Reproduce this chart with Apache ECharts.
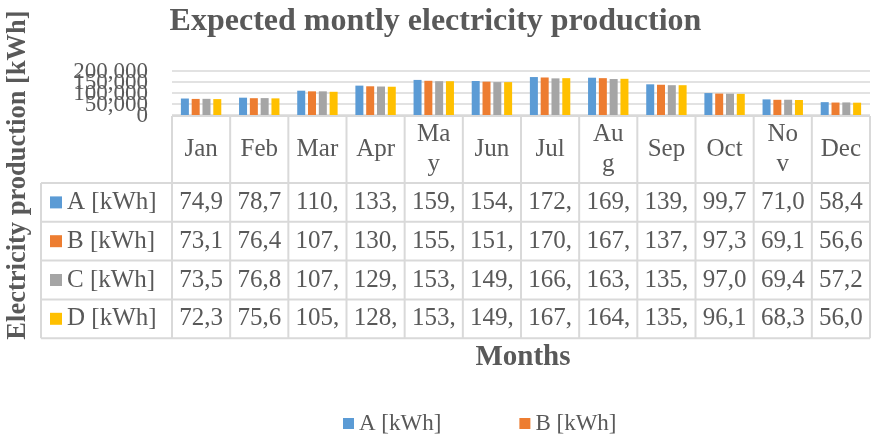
<!DOCTYPE html>
<html>
<head>
<meta charset="utf-8">
<script src="https://cdn.jsdelivr.net/npm/echarts@6/dist/echarts.min.js"></script>
<style>html,body{margin:0;padding:0;background:#fff}#main{width:871px;height:436px}</style>
</head>
<body>
<div id="main"></div>
<script>
const months = ['Jan','Feb','Mar','Apr','May','Jun','Jul','Aug','Sep','Oct','Nov','Dec'];
const seriesNames = ['A [kWh]','B [kWh]','C [kWh]','D [kWh]'];
const valuesA = [74900, 78700, 110500, 133500, 159500, 154500, 172500, 169500, 139500, 99700, 71000, 58400];
const valuesB = [73100, 76400, 107500, 130500, 155500, 151500, 170500, 167500, 137500, 97300, 69100, 56600];
const valuesC = [73500, 76800, 107500, 129500, 153500, 149500, 166500, 163500, 135500, 97000, 69400, 57200];
const valuesD = [72300, 75600, 105500, 128500, 153500, 149500, 167500, 164500, 135500, 96100, 68300, 56000];
const yTicks = [0, 50000, 100000, 150000, 200000];
const legendShown = ['A [kWh]','B [kWh]'];
const colors = ['#5B9BD5','#ED7D31','#A5A5A5','#FFC000'];
const allValues = [valuesA, valuesB, valuesC, valuesD];

const font = 'Liberation Serif';
const txt = '#595959';
const border = '#d9d9d9';

let chart = echarts.init(document.getElementById('main'));

let option = {
  animation: false,
  color: colors,
  textStyle: { fontFamily: font },
  title: {
    text: 'Expected montly electricity production',
    left: 'center',
    top: 1,
    textStyle: { fontFamily: font, fontSize: 32, fontWeight: 'bold', color: txt }
  },
  legend: {
    data: legendShown,
    bottom: -4,
    left: 338,
    itemWidth: 11,
    itemHeight: 11,
    itemGap: 78,
    icon: 'rect',
    textStyle: { fontFamily: font, fontSize: 23, color: txt }
  },
  grid: { left: 172, right: 1, top: 71, height: 44 },
  xAxis: {
    type: 'category',
    data: months,
    axisLine: { show: false },
    axisTick: { show: false },
    axisLabel: { show: false }
  },
  yAxis: {
    type: 'value',
    min: yTicks[0],
    max: yTicks[yTicks.length - 1],
    interval: yTicks[1] - yTicks[0],
    axisLine: { show: false },
    axisTick: { show: false },
    splitLine: { lineStyle: { color: border, width: 1.5 } },
    // labels overlap in the original, drawn below so none get hidden
    axisLabel: { show: false }
  },
  series: seriesNames.map((n, i) => ({
    name: n,
    type: 'bar',
    data: allValues[i],
    barWidth: 8,
    barGap: '35%'
  }))
};

chart.setOption(option);

function buildTable() {
  const g = [];
  const cx0 = chart.convertToPixel({ xAxisIndex: 0 }, 0);
  const cx1 = chart.convertToPixel({ xAxisIndex: 0 }, 1);
  const cw = cx1 - cx0;
  const left = cx0 - cw / 2;
  const right = left + cw * months.length;
  const keyLeft = 41;
  const headTop = 116, headBot = 183, rowH = 38.8;
  const line = (x1, y1, x2, y2) => g.push({
    type: 'line', shape: { x1, y1, x2, y2 },
    style: { stroke: border, lineWidth: 2 }
  });

  // y tick labels
  yTicks.forEach(v => {
    g.push({
      type: 'text',
      x: left - 24,
      y: chart.convertToPixel({ yAxisIndex: 0 }, v) + 1,
      style: {
        text: v.toLocaleString('en-US'), fontFamily: font, fontSize: 23, fill: txt,
        align: 'right', verticalAlign: 'middle'
      }
    });
  });

  // horizontal borders
  line(left, headTop, right, headTop);
  for (let r = 0; r <= seriesNames.length; r++) {
    line(keyLeft, headBot + r * rowH, right, headBot + r * rowH);
  }
  // vertical borders
  line(keyLeft, headBot, keyLeft, headBot + seriesNames.length * rowH);
  for (let c = 0; c <= months.length; c++) {
    line(left + c * cw, headTop, left + c * cw, headBot + seriesNames.length * rowH);
  }

  // month header
  months.forEach((m, c) => {
    g.push({
      type: 'text',
      x: chart.convertToPixel({ xAxisIndex: 0 }, c),
      y: (headTop + headBot) / 2,
      style: {
        text: m, width: 42.5, overflow: 'breakAll',
        fontFamily: font, fontSize: 25, lineHeight: 30, fill: txt,
        align: 'center', verticalAlign: 'middle'
      }
    });
  });

  // rows
  seriesNames.forEach((n, r) => {
    const cy = headBot + r * rowH + rowH / 2;
    g.push({
      type: 'rect', shape: { x: 50, y: cy - 6, width: 12, height: 12 },
      style: { fill: colors[r] }
    });
    g.push({
      type: 'text', x: 67, y: cy,
      style: { text: n, fontFamily: font, fontSize: 25, fill: txt, verticalAlign: 'middle' }
    });
    allValues[r].forEach((v, c) => {
      g.push({
        type: 'text',
        x: chart.convertToPixel({ xAxisIndex: 0 }, c),
        y: cy,
        style: {
          text: v.toLocaleString('en-US').slice(0, 4),
          fontFamily: font, fontSize: 25, fill: txt,
          align: 'center', verticalAlign: 'middle'
        }
      });
    });
  });

  // axis titles
  g.push({
    type: 'text', x: 523, y: 358,
    style: { text: 'Months', fontFamily: font, fontSize: 29, fontWeight: 'bold', fill: txt,
      align: 'center', verticalAlign: 'middle' }
  });
  g.push({
    type: 'text', x: 18, y: 175, rotation: Math.PI / 2,
    style: { text: 'Electricity production [kWh]', fontFamily: font, fontSize: 26.5, fontWeight: 'bold', fill: txt,
      align: 'center', verticalAlign: 'middle' }
  });

  chart.setOption({ graphic: g });
}

buildTable();
window.addEventListener('resize', function () { chart.resize(); buildTable(); });
</script>
</body>
</html>
